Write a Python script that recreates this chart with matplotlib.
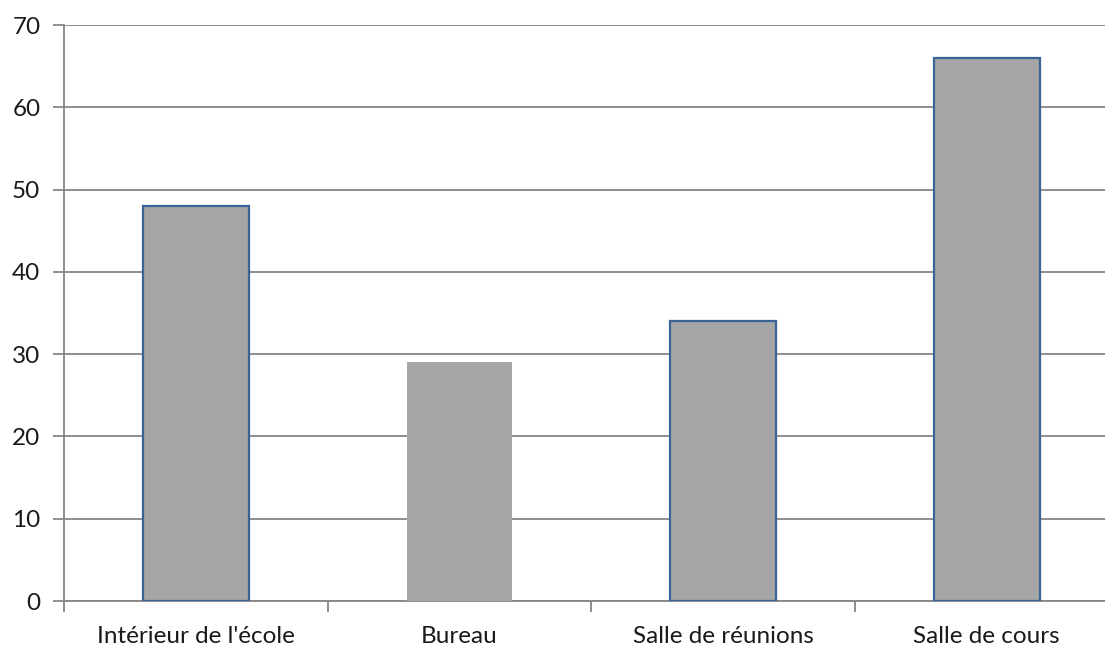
import numpy as np
import matplotlib.pyplot as plt

categories = ["Intérieur de l'école", "Bureau", "Salle de réunions", "Salle de cours"]
values = [48, 29, 34, 66]
outlined = [True, False, True, True]

plt.rcParams['font.family'] = ['Lato', 'DejaVu Sans']

fig = plt.figure(figsize=(11.05, 6.46), dpi=100)
W, H = 1105, 646
ax = fig.add_axes([64 / W, 45 / H, (1118.6 - 64) / W, (601 - 25) / H])

grid_c = '#868686'
x = np.arange(len(categories))
for xi, v, edge in zip(x, values, outlined):
    ax.bar(xi, v, width=0.40, color='#a6a6a6',
           edgecolor='#3a6496' if edge else 'none',
           linewidth=1.6 if edge else 0, zorder=3)

ax.set_xlim(-0.5, len(categories) - 0.5)
ax.set_ylim(0, 70)
ax.set_yticks(np.arange(0, 71, 10))
ax.yaxis.grid(True, color=grid_c, linewidth=1.3, zorder=0)
ax.set_axisbelow(True)

ax.set_xticks(x)
ax.set_xticklabels(categories, fontsize=17.5, color='#1a1a1a')
ax.tick_params(axis='x', length=0, pad=18)
ax.set_xticks(np.arange(-0.5, len(categories)), minor=True)
ax.tick_params(axis='x', which='minor', length=8, width=1.3, color=grid_c, direction='out')
ax.tick_params(axis='y', length=8, width=1.3, color=grid_c, labelsize=17.5,
               labelcolor='#1a1a1a', pad=9)

for s in ['top', 'right']:
    ax.spines[s].set_visible(False)
for s in ['left', 'bottom']:
    ax.spines[s].set_color(grid_c)
    ax.spines[s].set_linewidth(1.3)

fig.savefig('out.png', dpi=100)
